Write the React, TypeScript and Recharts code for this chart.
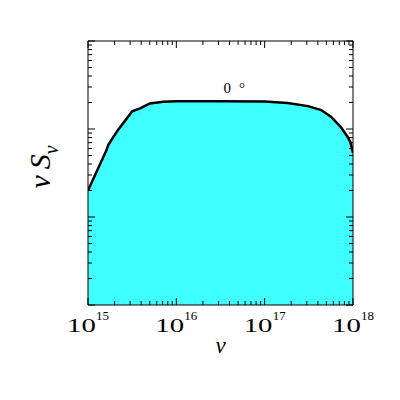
import { ComposedChart, Area, XAxis, YAxis, ReferenceDot } from "recharts";

// log10(nu) and log10(nu S_nu)
const LOG_NU = [15.0, 15.21, 15.23, 15.34, 15.5, 15.59, 15.7, 15.85, 16.0, 16.5, 17.0, 17.26, 17.49, 17.64, 17.75, 17.86, 17.94, 17.97, 18.0];
const LOG_NUSNU = [-1.7, -1.24, -1.18, -1.01, -0.8, -0.765, -0.71, -0.69, -0.686, -0.686, -0.688, -0.705, -0.74, -0.785, -0.86, -0.975, -1.09, -1.15, -1.27];

const X_DECADES = [15, 16, 17, 18];
const Y_DECADES = [-3, -2, -1, 0];

const ANGLE_LABEL = "0";
const X_TITLE = "ν";
const Y_TITLE = ["ν", "S", "ν"];

const data = LOG_NU.map((l, i) => ({ nu: 10 ** l, s: 10 ** LOG_NUSNU[i] }));

function logTicks(decades: number[]) {
  const out: number[] = [];
  decades.forEach((d, i) => {
    if (i === decades.length - 1) {
      out.push(10 ** d);
      return;
    }
    for (let m = 1; m < 10; m++) out.push(m * 10 ** d);
  });
  return out;
}

const xTicks = logTicks(X_DECADES);
const yTicks = logTicks(Y_DECADES);
const xDomain = [10 ** X_DECADES[0], 10 ** X_DECADES[X_DECADES.length - 1]];
const yDomain = [10 ** Y_DECADES[0], 10 ** Y_DECADES[Y_DECADES.length - 1]];

const isMajor = (v: number) => {
  const l = Math.log10(v);
  return Math.abs(l - Math.round(l)) < 1e-6;
};

const MAJOR = 7;
const MINOR = 4;
const SERIF = "'Liberation Serif', 'DejaVu Serif', serif";

function BottomTick(props: any) {
  const { x, y, payload } = props;
  const major = isMajor(payload.value);
  const exp = Math.round(Math.log10(payload.value));
  return (
    <g>
      <line x1={x} y1={y} x2={x} y2={y - (major ? MAJOR : MINOR)} stroke="#000" />
      {major && (
        <g fontFamily={SERIF} fill="#000">
          <text transform={`translate(${x - 21},${y + 27}) scale(1.6,1)`} fontSize={18}>
            10
          </text>
          <text x={x + 8} y={y + 15} fontSize={13}>
            {exp}
          </text>
        </g>
      )}
    </g>
  );
}

function TopTick(props: any) {
  const { x, y, payload } = props;
  const len = isMajor(payload.value) ? MAJOR : MINOR;
  return <line x1={x} y1={y} x2={x} y2={y + len} stroke="#000" />;
}

function LeftTick(props: any) {
  const { x, y, payload } = props;
  const len = isMajor(payload.value) ? MAJOR : MINOR;
  return <line x1={x} y1={y} x2={x + len} y2={y} stroke="#000" />;
}

function RightTick(props: any) {
  const { x, y, payload } = props;
  const len = isMajor(payload.value) ? MAJOR : MINOR;
  return <line x1={x} y1={y} x2={x - len} y2={y} stroke="#000" />;
}

function XTitle(props: any) {
  const vb = props.viewBox;
  return (
    <text
      x={vb.x + vb.width / 2}
      y={vb.y + 48}
      textAnchor="middle"
      fontFamily={SERIF}
      fontStyle="italic"
      fontSize={23}
      fill="#000"
    >
      {X_TITLE}
    </text>
  );
}

function YTitle(props: any) {
  const vb = props.viewBox;
  const cx = vb.x + vb.width - 38;
  const cy = vb.y + vb.height / 2 - 6;
  return (
    <text
      transform={`translate(${cx},${cy}) rotate(-90)`}
      textAnchor="middle"
      fontFamily={SERIF}
      fontStyle="italic"
      fontSize={30}
      fill="#000"
    >
      <tspan>{Y_TITLE[0]}</tspan>
      <tspan dx={6}>{Y_TITLE[1]}</tspan>
      <tspan dy={8} fontSize={20}>
        {Y_TITLE[2]}
      </tspan>
    </text>
  );
}

function AngleLabel(props: any) {
  const vb = props.viewBox;
  return (
    <text x={vb.x} y={vb.y} fontFamily={SERIF} fontSize={15} fill="#000">
      <tspan>{ANGLE_LABEL}</tspan>
      <tspan dx={8}>°</tspan>
    </text>
  );
}

export default function App() {
  return (
    <div style={{ position: "absolute", left: 0, top: 0, width: 400, height: 400, background: "#fff" }}>
      <ComposedChart width={400} height={400} data={data} margin={{ top: 40, right: 46, bottom: 94, left: 87 }}>
        <XAxis
          dataKey="nu"
          type="number"
          scale="log"
          domain={xDomain}
          allowDataOverflow
          ticks={xTicks}
          interval={0}
          height={1}
          tickSize={0}
          tickMargin={0}
          tickLine={false}
          axisLine={{ stroke: "#000" }}
          tick={<BottomTick />}
          label={<XTitle />}
        />
        <XAxis
          xAxisId="top"
          dataKey="nu"
          orientation="top"
          type="number"
          scale="log"
          domain={xDomain}
          allowDataOverflow
          ticks={xTicks}
          interval={0}
          height={1}
          tickSize={0}
          tickMargin={0}
          tickLine={false}
          axisLine={{ stroke: "#000" }}
          tick={<TopTick />}
        />
        <YAxis
          type="number"
          scale="log"
          domain={yDomain}
          allowDataOverflow
          ticks={yTicks}
          interval={0}
          width={1}
          tickSize={0}
          tickMargin={0}
          tickLine={false}
          axisLine={{ stroke: "#000" }}
          tick={<LeftTick />}
          label={<YTitle />}
        />
        <YAxis
          yAxisId="right"
          orientation="right"
          type="number"
          scale="log"
          domain={yDomain}
          allowDataOverflow
          ticks={yTicks}
          interval={0}
          width={1}
          tickSize={0}
          tickMargin={0}
          tickLine={false}
          axisLine={{ stroke: "#000" }}
          tick={<RightTick />}
        />
        <Area
          type="linear"
          dataKey="s"
          stroke="#000"
          strokeWidth={2.5}
          fill="#40ffff"
          fillOpacity={1}
          baseValue={yDomain[0]}
          dot={false}
          activeDot={false}
          isAnimationActive={false}
        />
        <Area
          xAxisId="top"
          yAxisId="right"
          type="linear"
          dataKey="s"
          stroke="none"
          fill="none"
          dot={false}
          activeDot={false}
          isAnimationActive={false}
        />
        <ReferenceDot x={10 ** 16.534} y={10 ** -0.591} r={0} fill="none" stroke="none" label={<AngleLabel />} />
      </ComposedChart>
    </div>
  );
}
